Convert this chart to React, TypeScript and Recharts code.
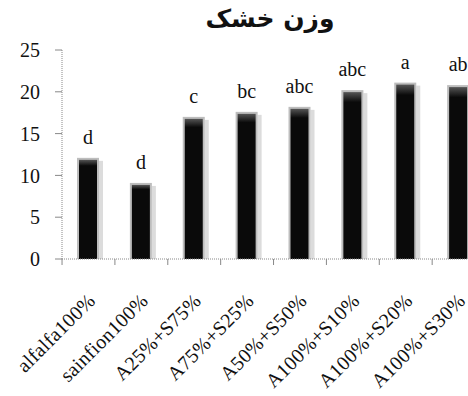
import { BarChart, Bar, XAxis, YAxis, LabelList } from "recharts";

const categories = [
  "alfalfa100%",
  "sainfion100%",
  "A25%+S75%",
  "A75%+S25%",
  "A50%+S50%",
  "A100%+S10%",
  "A100%+S20%",
  "A100%+S30%",
];
const dryWeight = [12.1, 9.1, 17.0, 17.6, 18.2, 20.2, 21.1, 20.8];
const letters = ["d", "d", "c", "bc", "abc", "abc", "a", "ab"];
const yTicks = [0, 5, 10, 15, 20, 25];

const data = categories.map((name, i) => ({
  name,
  value: dryWeight[i],
  letter: letters[i],
}));

const FONT = "'Liberation Serif', 'Times New Roman', serif";
const BAND = 52.8;

function XTick(props: any) {
  const { x, y, payload } = props;
  const tx = x + 8;
  const ty = y + 35;
  return (
    <g>
      <line x1={x - BAND / 2} y1={y - 8} x2={x - BAND / 2} y2={y - 2} stroke="#888" />
      <text
        x={tx}
        y={ty}
        transform={`rotate(-45, ${tx}, ${ty})`}
        textAnchor="end"
        fontFamily={FONT}
        fontSize={20}
        letterSpacing={0.3}
        fill="#111"
      >
        {payload.value}
      </text>
    </g>
  );
}

function ShadedBar(props: any) {
  const { x, y, width, height } = props;
  if (!height || height <= 0) return null;
  return (
    <g>
      <rect x={x + width} y={y + 3} width={4} height={height - 3} fill="#dcdcdc" />
      <rect x={x} y={y} width={width} height={height} fill="#bdbdbd" />
      <rect x={x + 2} y={y + 2} width={width - 4} height={height - 2} fill="url(#barGrad)" />
    </g>
  );
}

export default function App() {
  return (
    <div
      style={{
        position: "absolute",
        left: 0,
        top: 0,
        width: 468,
        height: 396,
        overflow: "hidden",
        background: "#fff",
      }}
    >
      <div
        style={{
          position: "absolute",
          left: 0,
          width: 540,
          top: 4,
          textAlign: "center",
          fontFamily: "'DejaVu Sans', sans-serif",
          fontWeight: "bold",
          fontSize: 25,
          color: "#111",
          direction: "rtl",
        }}
      >
        وزن خشک
      </div>
      <BarChart
        width={485}
        height={396}
        data={data}
        margin={{ top: 50, right: 0, bottom: 0, left: 0 }}
        barSize={22}
      >
        <defs>
          <linearGradient id="barGrad" x1="0" y1="0" x2="0" y2="1">
            <stop offset="0" stopColor="#555" />
            <stop offset="0.06" stopColor="#0a0a0a" />
            <stop offset="1" stopColor="#0a0a0a" />
          </linearGradient>
        </defs>
        <YAxis
          width={62}
          domain={[0, 25]}
          ticks={yTicks}
          interval={0}
          axisLine={{ stroke: "#888", strokeDasharray: "1 1" }}
          tickLine={{ stroke: "#888" }}
          tickSize={7}
          tickMargin={15}
          tick={{ fontFamily: FONT, fontSize: 20, fill: "#111" }}
        />
        <XAxis
          dataKey="name"
          height={137}
          interval={0}
          axisLine={{ stroke: "#888", strokeDasharray: "1 1" }}
          tickLine={false}
          tick={<XTick />}
        />
        <Bar dataKey="value" shape={<ShadedBar />} isAnimationActive={false}>
          <LabelList
            dataKey="letter"
            position="top"
            offset={14}
            style={{ fontFamily: FONT, fontSize: 20, fill: "#111" }}
          />
        </Bar>
      </BarChart>
    </div>
  );
}
